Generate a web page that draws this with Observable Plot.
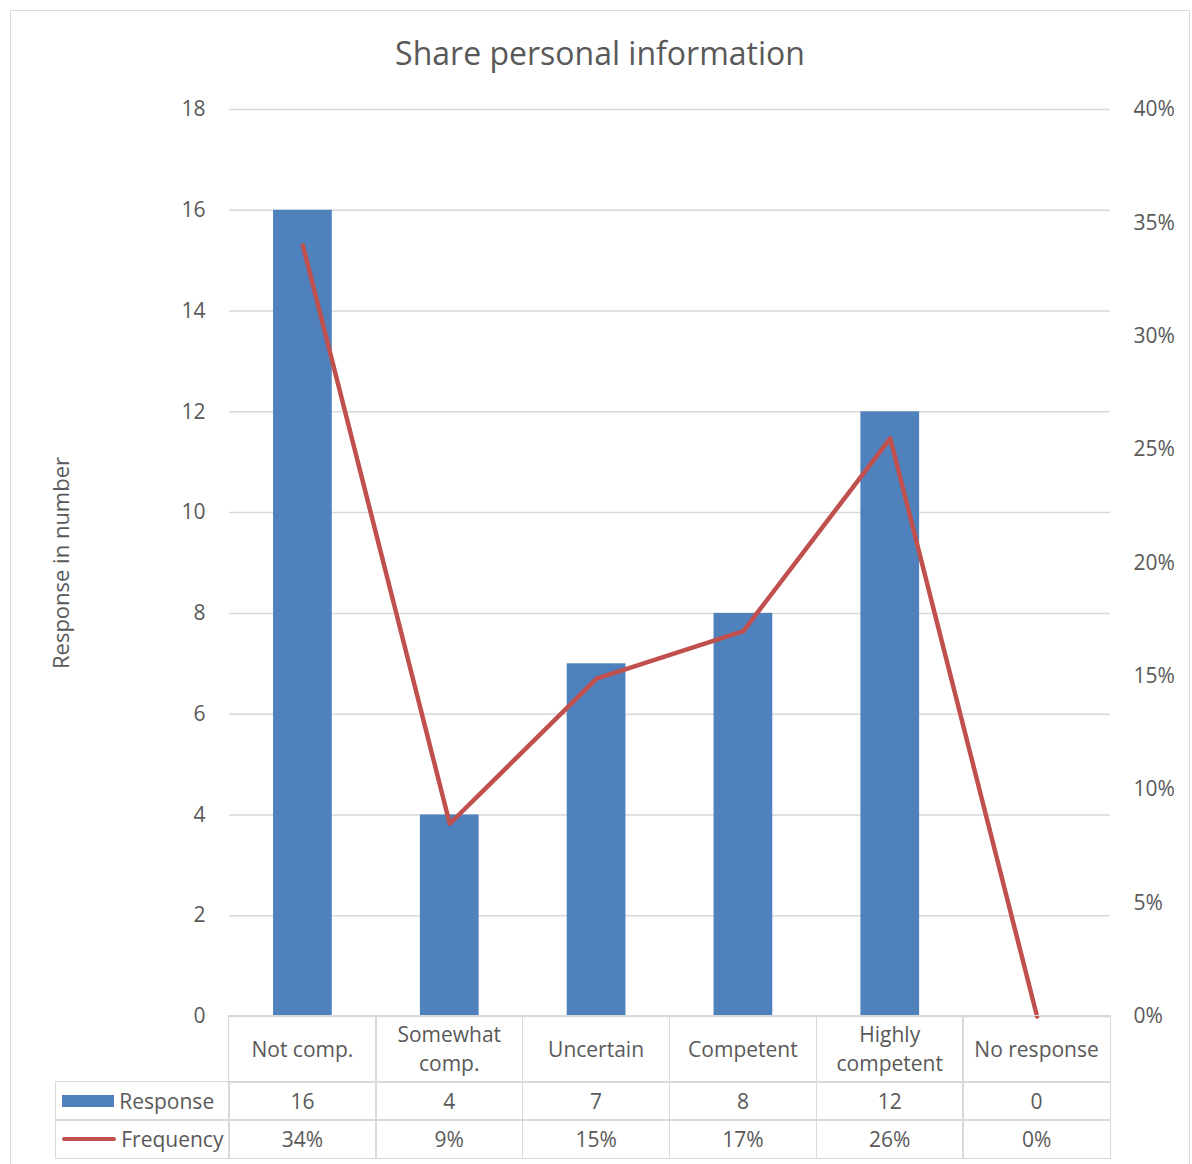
<!DOCTYPE html>
<html><head><meta charset="utf-8">
<script src="https://cdn.jsdelivr.net/npm/d3@7"></script>
<script src="https://cdn.jsdelivr.net/npm/@observablehq/plot@0.6"></script>
<style>
body{margin:0;background:#fff;font-family:"Open Sans",sans-serif;color:#595959;}
#frame{position:absolute;left:10px;top:10px;width:1180px;height:1170px;border:1.5px solid #d9d9d9;box-sizing:border-box;}
#title{position:absolute;left:0;width:1200px;top:31px;text-align:center;font-size:32px;line-height:44px;color:#595959;}
#chart{position:absolute;left:0;top:0;}
.cell{position:absolute;box-sizing:border-box;border:1.5px solid #d9d9d9;display:flex;align-items:center;justify-content:center;text-align:center;font-size:21px;line-height:29px;color:#595959;padding:0 4px;}
.leg{justify-content:flex-start;padding-left:6px;}
.sw{display:inline-block;margin-right:5px;}
</style></head><body>
<div id="frame"></div>
<div id="title">Share personal information</div>
<div id="chart"></div>
<div id="table"></div>
<script>
const categories = ["Not comp.", "Somewhat comp.", "Uncertain", "Competent", "Highly competent", "No response"];
const responses = [16, 4, 7, 8, 12, 0];
const frequencies = [0.34, 0.085, 0.149, 0.17, 0.255, 0];
const freqLabels = ["34%", "9%", "15%", "17%", "26%", "0%"];
const yTicks = [0, 2, 4, 6, 8, 10, 12, 14, 16, 18];
const freqTicks = [0, 0.05, 0.10, 0.15, 0.20, 0.25, 0.30, 0.35, 0.40];
const seriesNames = ["Response", "Frequency"];
const yAxisTitle = "Response in number";

const barColor = "#4f81bd";
const lineColor = "#c0504d";
const yMax = 18, fMax = 0.4;
const k = yMax / fMax;

const data = categories.map((c, i) => ({cat: c, resp: responses[i], freq: frequencies[i]}));

const chart = Plot.plot({
  width: 1192,
  height: 1040,
  marginTop: 109,
  marginBottom: 24,
  marginLeft: 229,
  marginRight: 82,
  style: {fontFamily: "'Open Sans', sans-serif", fontSize: "21px", color: "#595959", background: "transparent"},
  x: {domain: categories, paddingInner: 0.6, paddingOuter: 0.3, round: false, axis: null},
  y: {domain: [0, yMax], axis: null},
  marks: [
    Plot.gridY(yTicks, {stroke: "#d9d9d9", strokeOpacity: 1, strokeWidth: 1.5}),
    Plot.axisY(yTicks, {anchor: "left", tickSize: 0, tickPadding: 24, label: null, fontSize: 21, tickFormat: d => String(d)}),
    Plot.axisY(freqTicks.map(f => f * k), {anchor: "right", tickSize: 0, tickPadding: 23, label: null, fontSize: 21,
      tickFormat: d => Math.round(d / k * 100) + "%"}),
    Plot.text([yAxisTitle], {frameAnchor: "left", textAnchor: "middle", dx: -168, rotate: -90, fontSize: 22, fill: "#595959"}),
    Plot.barY(data, {x: "cat", y: "resp", fill: barColor}),
    Plot.line(data, {x: "cat", y: d => d.freq * k, stroke: lineColor, strokeWidth: 4.5, strokeLinejoin: "round", strokeLinecap: "round"})
  ]
});
document.getElementById("chart").appendChild(chart);

// data table below the plot, aligned to the x band scale
const xs = chart.scale("x");
const bw = xs.bandwidth;
const step = xs.step || bw / (1 - 0.6);
const top0 = 1016;
const rowH = [66, 38, 38];
const rowTop = [top0, top0 + rowH[0], top0 + rowH[0] + rowH[1]];
const legendLeft = 56;
const tbl = d3.select("#table");
const colLeft = c => xs.apply(c) - (step - bw) / 2;

categories.forEach((c, i) => {
  const L = colLeft(c);
  tbl.append("div").attr("class", "cell")
    .style("left", (L - 0.75) + "px").style("top", (rowTop[0] - 0.75) + "px")
    .style("width", (step + 1.5) + "px").style("height", (rowH[0] + 1.5) + "px")
    .text(c);
  tbl.append("div").attr("class", "cell")
    .style("left", (L - 0.75) + "px").style("top", (rowTop[1] - 0.75) + "px")
    .style("width", (step + 1.5) + "px").style("height", (rowH[1] + 1.5) + "px")
    .text(responses[i]);
  tbl.append("div").attr("class", "cell")
    .style("left", (L - 0.75) + "px").style("top", (rowTop[2] - 0.75) + "px")
    .style("width", (step + 1.5) + "px").style("height", (rowH[2] + 1.5) + "px")
    .text(freqLabels[i]);
});
const firstL = colLeft(categories[0]);
seriesNames.forEach((name, j) => {
  const cell = tbl.append("div").attr("class", "cell leg")
    .style("left", (legendLeft - 0.75) + "px").style("top", (rowTop[j + 1] - 0.75) + "px")
    .style("width", (firstL - legendLeft + 1.5) + "px").style("height", (rowH[j + 1] + 1.5) + "px");
  const sw = cell.append("span").attr("class", "sw");
  if (j === 0) sw.style("width", "52px").style("height", "12px").style("background", barColor);
  else sw.style("width", "54px").style("height", "4.5px").style("background", lineColor).style("border-radius", "3px");
  cell.append("span").text(name);
});
</script>
</body></html>
